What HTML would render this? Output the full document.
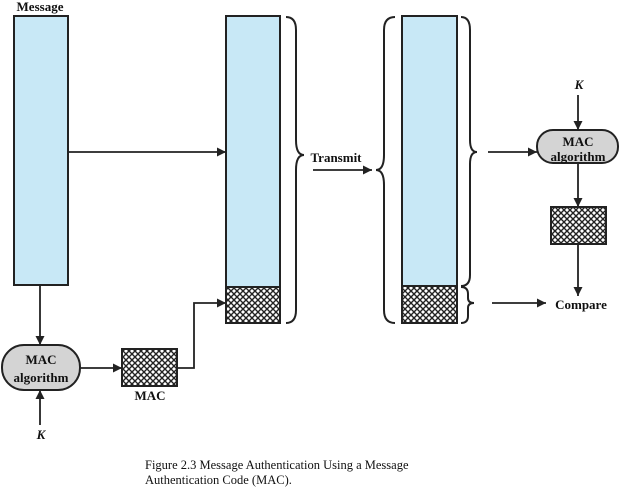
<!DOCTYPE html>
<html><head><style>body{margin:0;background:#fff}svg{display:block}</style></head><body>
<svg width="619" height="489" xmlns="http://www.w3.org/2000/svg" font-family="Liberation Serif, serif">
<defs>
<pattern id="h" width="6" height="6" patternUnits="userSpaceOnUse">
<rect width="6" height="6" fill="#fff"/>
<path d="M0,0L6,6M6,0L0,6" stroke="#222" stroke-width="1.4"/>
</pattern>
<marker id="a" viewBox="0 0 10 10" refX="10" refY="5" markerWidth="9" markerHeight="9" markerUnits="userSpaceOnUse" orient="auto"><path d="M0,0L10,5L0,10z" fill="#222"/></marker>
</defs>
<g stroke="#222" stroke-width="2">
<rect x="14" y="16" width="54" height="269" fill="#c8e8f6"/>
<rect x="226" y="16" width="54" height="271" fill="#c8e8f6"/>
<rect x="226" y="287" width="54" height="36" fill="url(#h)"/>
<rect x="402" y="16" width="55" height="270" fill="#c8e8f6"/>
<rect x="402" y="286" width="55" height="37" fill="url(#h)"/>
<rect x="122" y="349" width="55" height="37" fill="url(#h)"/>
<rect x="551" y="207" width="55" height="37" fill="url(#h)"/>
<rect x="2" y="345" width="78" height="45" rx="22" fill="#d4d4d4"/>
<rect x="537" y="130" width="81" height="33" rx="16" fill="#d4d4d4"/>
</g>
<g fill="none" stroke="#222" stroke-width="2">
<path d="M286,17 Q296,17 296,30 L296,140 Q296,155 304,155 Q296,155 296,170 L296,310 Q296,323 286,323"/>
<path d="M395,17 Q384,17 384,30 L384,155 Q384,170 376,170 Q384,170 384,185 L384,310 Q384,323 395,323"/>
<path d="M461,17 Q470,17 470,30 L470,140 Q470,152 477,152 Q470,152 470,164 L470,275 Q470,286 461,286"/>
<path d="M461,287 Q468,287 468,294 L468,298 Q468,303 474,303 Q468,303 468,308 L468,316 Q468,323 461,323"/>
</g>
<g stroke="#222" stroke-width="1.8" fill="none" marker-end="url(#a)">
<path d="M68,152H226"/>
<path d="M40,285V345"/>
<path d="M40,425V390"/>
<path d="M80,368H122"/>
<path d="M177,368H194V303H226"/>
<path d="M313,170H372"/>
<path d="M488,152H537"/>
<path d="M578,95V130"/>
<path d="M578,163V207"/>
<path d="M578,244V296"/>
<path d="M492,303H546"/>
</g>
<g font-weight="bold" font-size="13" fill="#111" text-anchor="middle">
<text x="40" y="11">Message</text>
<text x="41" y="364">MAC</text>
<text x="41" y="382">algorithm</text>
<text x="150" y="400">MAC</text>
<text x="336" y="162">Transmit</text>
<text x="578" y="146">MAC</text>
<text x="578" y="161">algorithm</text>
<text x="581" y="309">Compare</text>
</g>
<g font-style="italic" font-weight="bold" font-size="13" fill="#111" text-anchor="middle">
<text x="41" y="439">K</text>
<text x="579" y="89">K</text>
</g>
<g font-size="12.5" fill="#111">
<text x="145" y="469">Figure 2.3  Message Authentication Using a Message</text>
<text x="145" y="484">Authentication Code (MAC).</text>
</g>
</svg>
</body></html>
